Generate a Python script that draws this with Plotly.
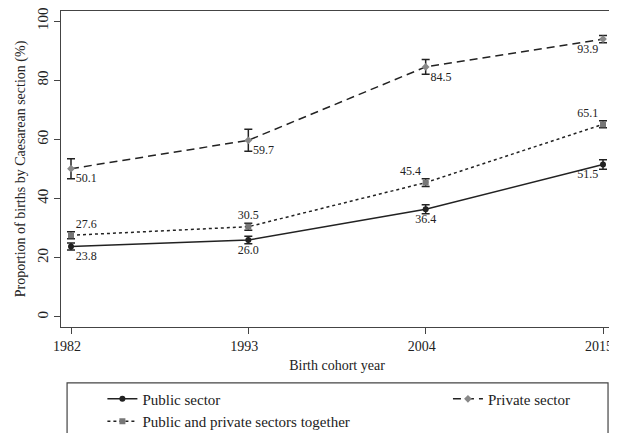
import plotly.graph_objects as go

years = [1982, 1993, 2004, 2015]

public = [23.8, 26.0, 36.4, 51.5]
public_err = [1.2, 1.3, 1.5, 1.6]

private = [50.1, 59.7, 84.5, 93.9]
private_err = [3.4, 3.7, 2.5, 1.2]

together = [27.6, 30.5, 45.4, 65.1]
together_err = [1.2, 1.2, 1.3, 1.2]

public_labels = ["23.8", "26.0", "36.4", "51.5"]
private_labels = ["50.1", "59.7", "84.5", "93.9"]
together_labels = ["27.6", "30.5", "45.4", "65.1"]

FONT = "Liberation Serif"
LINE = "#222222"

fig = go.Figure()

fig.add_trace(go.Scatter(
    x=years, y=public, name="Public sector", mode="lines+markers+text",
    line=dict(color=LINE, width=1.5),
    marker=dict(symbol="circle", size=6, color=LINE),
    error_y=dict(type="data", array=public_err, color=LINE, thickness=1.5, width=4),
    text=public_labels,
    textposition=["bottom right", "bottom center", "bottom center", "bottom left"],
    textfont=dict(family=FONT, size=12, color="#222"),
    cliponaxis=False,
    legend="legend",
))

fig.add_trace(go.Scatter(
    x=years, y=private, name="Private sector", mode="lines+markers+text",
    line=dict(color=LINE, width=1.5, dash="8px,5px"),
    marker=dict(symbol="diamond", size=6, color="#888888"),
    error_y=dict(type="data", array=private_err, color=LINE, thickness=1.5, width=4),
    text=private_labels,
    textposition=["bottom right", "bottom right", "bottom right", "bottom left"],
    textfont=dict(family=FONT, size=12, color="#222"),
    cliponaxis=False,
    legend="legend2",
))

fig.add_trace(go.Scatter(
    x=years, y=together, name="Public and private sectors together", mode="lines+markers+text",
    line=dict(color=LINE, width=1.5, dash="dot"),
    marker=dict(symbol="square", size=6, color="#777777"),
    error_y=dict(type="data", array=together_err, color=LINE, thickness=1.5, width=4),
    text=together_labels,
    textposition=["top right", "top center", "top left", "top left"],
    textfont=dict(family=FONT, size=12, color="#222"),
    cliponaxis=False,
    legend="legend",
))

legend_common = dict(
    orientation="v", yanchor="top", xanchor="left",
    font=dict(family=FONT, size=15, color="#222"),
    bgcolor="rgba(0,0,0,0)", borderwidth=0,
)

fig.update_layout(
    width=613, height=425,
    margin=dict(l=53, r=8, t=3, b=106, autoexpand=False),
    paper_bgcolor="white", plot_bgcolor="white",
    font=dict(family=FONT, size=14, color="#222"),
    showlegend=True,
    legend=dict(x=0.075, y=-0.176, **legend_common),
    legend2=dict(x=0.701, y=-0.176, **legend_common),
    xaxis=dict(
        range=[1981.38, 2015.62], tickvals=years, ticktext=[str(y) for y in years],
        showgrid=False, zeroline=False, showline=True, mirror=True,
        linecolor="#444", linewidth=1.2, ticks="outside", ticklen=6, tickcolor="#444",
        title=dict(text="Birth cohort year", standoff=7, font=dict(size=14)),
        tickfont=dict(size=14), ticklabeloverflow="allow", ticklabelshift=-4,
    ),
    yaxis=dict(
        range=[-3.4, 103.4], tickvals=[0, 20, 40, 60, 80, 100],
        showgrid=False, zeroline=False, showline=True, mirror=True,
        linecolor="#444", linewidth=1.2, ticks="outside", ticklen=6, tickcolor="#444",
        tickangle=-90, tickfont=dict(size=15), ticklabeloverflow="allow",
        title=dict(text="Proportion of births by Caesarean section (%)", standoff=6, font=dict(size=14)),
    ),
    shapes=[dict(
        type="rect", xref="paper", yref="paper",
        x0=0.011, x1=0.991, y0=-0.177, y1=-0.5,
        line=dict(color="#444", width=1.2), fillcolor="rgba(0,0,0,0)",
    )],
)

fig.write_html("out.html")
